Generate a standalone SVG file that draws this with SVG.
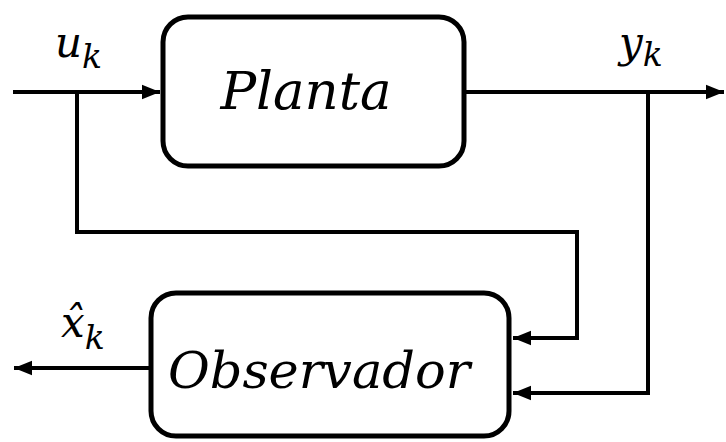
<svg xmlns="http://www.w3.org/2000/svg" width="726" height="442" viewBox="0 0 726 442">
<style>
.box{fill:#fff;stroke:#000;stroke-width:5}
.ln{fill:none;stroke:#000;stroke-width:4}
.t{font-family:"DejaVu Serif",serif;font-style:italic;fill:#000}
.m{font-size:42px}
.s{font-size:33px}
</style>
<defs>
<marker id="ah" viewBox="0 0 10 10" refX="10" refY="5" markerWidth="4.5" markerHeight="4.5" markerUnits="strokeWidth" orient="auto">
<path d="M0,1 L10,5 L0,9 Z" fill="#000"/>
</marker>
</defs>
<rect width="726" height="442" fill="#fff"/>
<g id="connectors">
<path class="ln" d="M13,92 H160" marker-end="url(#ah)"/>
<path class="ln" d="M77,92 V232 H577 V338 H513" marker-end="url(#ah)"/>
<path class="ln" d="M465,92 H724" marker-end="url(#ah)"/>
<path class="ln" d="M648,92 V393 H513" marker-end="url(#ah)"/>
<path class="ln" d="M150,368 H14" marker-end="url(#ah)"/>
</g>
<g id="planta">
<rect class="box" x="163" y="17" width="301" height="149" rx="25"/>
<text class="t" x="306" y="109" font-size="53" text-anchor="middle">Planta</text>
</g>
<g id="observador">
<rect class="box" x="151" y="293" width="358" height="143" rx="25"/>
<text class="t" x="319" y="388" font-size="51" text-anchor="middle">Observador</text>
</g>
<g id="labels">
<text class="t m" x="55" y="57">u<tspan class="s" dy="11">k</tspan></text>
<text class="t m" x="619" y="57">y<tspan class="s" dy="9">k</tspan></text>
<text class="t m" x="61" y="337">x̂<tspan class="s" dy="12">k</tspan></text>
</g>
</svg>
